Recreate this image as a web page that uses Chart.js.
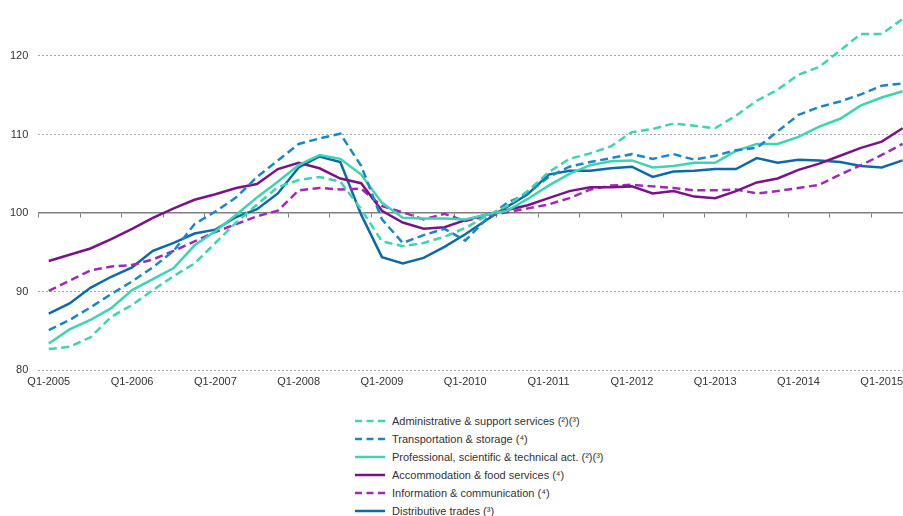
<!DOCTYPE html>
<html>
<head>
<meta charset="utf-8">
<script src="https://cdn.jsdelivr.net/npm/chart.js@4"></script>
<style>
  html, body { margin: 0; padding: 0; background: #fff; overflow: hidden; }
  #wrap { position: relative; width: 903px; height: 516px; overflow: hidden; }
  #chart { position: absolute; left: 0; top: 0; }
  #legend { position: absolute; left: 355px; top: 412px; font-family: "Liberation Sans", Arial, sans-serif; font-size: 11px; color: #333; }
  #legend .row { height: 18px; display: flex; align-items: center; white-space: nowrap; }
  #legend svg { display: block; margin-right: 7px; }
</style>
</head>
<body>
<div id="wrap">
  <canvas id="chart" width="920" height="400"></canvas>
  <div id="legend"></div>
</div>
<script>
const quarters = [
  'Q1-2005', 'Q2-2005', 'Q3-2005', 'Q4-2005',
  'Q1-2006', 'Q2-2006', 'Q3-2006', 'Q4-2006',
  'Q1-2007', 'Q2-2007', 'Q3-2007', 'Q4-2007',
  'Q1-2008', 'Q2-2008', 'Q3-2008', 'Q4-2008',
  'Q1-2009', 'Q2-2009', 'Q3-2009', 'Q4-2009',
  'Q1-2010', 'Q2-2010', 'Q3-2010', 'Q4-2010',
  'Q1-2011', 'Q2-2011', 'Q3-2011', 'Q4-2011',
  'Q1-2012', 'Q2-2012', 'Q3-2012', 'Q4-2012',
  'Q1-2013', 'Q2-2013', 'Q3-2013', 'Q4-2013',
  'Q1-2014', 'Q2-2014', 'Q3-2014', 'Q4-2014',
  'Q1-2015', 'Q2-2015'
];

const yTicks = [80, 90, 100, 110, 120];

const administrative = [
  82.7, 83.0, 84.2, 86.8, 88.3, 90.2, 92.0, 93.6, 96.2, 98.8,
  101.1, 103.3, 104.2, 104.6, 104.0, 100.5, 96.4, 95.8, 96.2, 97.0,
  98.1, 99.6, 100.9, 102.8, 105.2, 106.9, 107.6, 108.5, 110.3, 110.7,
  111.4, 111.1, 110.8, 112.4, 114.3, 115.7, 117.6, 118.6, 120.7, 122.8,
  122.8, 124.7
];
const transportation = [
  85.1, 86.4, 88.0, 89.7, 91.3, 93.1, 95.2, 98.6, 100.2, 102.0,
  104.6, 106.7, 108.8, 109.5, 110.1, 106.0, 99.2, 96.2, 97.2, 98.0,
  96.5, 99.2, 101.3, 102.5, 104.6, 105.9, 106.5, 107.0, 107.5, 106.9,
  107.5, 106.8, 107.3, 108.0, 108.3, 110.4, 112.5, 113.5, 114.2, 115.1,
  116.2, 116.5
];
const professional = [
  83.4, 85.2, 86.4, 87.9, 90.2, 91.6, 93.0, 95.9, 97.7, 99.8,
  102.0, 104.0, 106.1, 107.4, 106.9, 104.9, 101.3, 99.4, 99.3, 99.3,
  99.2, 99.8, 100.3, 101.8, 103.5, 105.0, 106.1, 106.6, 106.7, 105.8,
  106.0, 106.4, 106.4, 107.9, 108.8, 108.8, 109.7, 111.0, 112.0, 113.7,
  114.7, 115.5
];
const accommodation = [
  93.9, 94.7, 95.5, 96.7, 98.0, 99.4, 100.6, 101.7, 102.4, 103.2,
  103.7, 105.6, 106.4, 105.7, 104.4, 103.8, 100.3, 98.8, 98.0, 98.2,
  99.1, 99.8, 100.4, 101.0, 101.9, 102.8, 103.3, 103.3, 103.4, 102.5,
  102.8, 102.1, 101.9, 102.8, 103.9, 104.4, 105.5, 106.3, 107.3, 108.3,
  109.1, 110.8
];
const information = [
  90.1, 91.4, 92.7, 93.2, 93.4, 94.1, 95.2, 96.4, 97.6, 98.6,
  99.6, 100.3, 102.9, 103.2, 103.0, 103.1, 100.9, 100.1, 99.2, 99.9,
  99.0, 99.6, 100.1, 100.6, 101.1, 101.9, 103.0, 103.5, 103.6, 103.4,
  103.2, 102.9, 102.9, 103.0, 102.5, 102.8, 103.2, 103.6, 104.9, 106.1,
  107.4, 108.8
];
const distributive = [
  87.2, 88.5, 90.5, 91.9, 93.1, 95.2, 96.2, 97.4, 97.9, 99.5,
  100.5, 102.5, 105.8, 107.2, 106.5, 99.8, 94.4, 93.6, 94.3, 95.7,
  97.3, 99.1, 100.8, 102.4, 104.9, 105.4, 105.4, 105.7, 105.9, 104.6,
  105.3, 105.4, 105.6, 105.6, 107.0, 106.4, 106.8, 106.7, 106.5, 106.0,
  105.8, 106.7
];

const MINT = '#3dd4b1';
const BLUE = '#1a86c8';
const DARKBLUE = '#0e6aa5';
const PURPLE = '#7b1388';
const MAGENTA = '#a02ab4';
const DASH = [8, 4.5];

function series(label, data, color, dashed) {
  return {
    label: label,
    data: data,
    borderColor: color,
    backgroundColor: color,
    borderWidth: 2.5,
    borderDash: dashed ? DASH : [],
    pointRadius: 0,
    tension: 0,
    fill: false,
    xAxisID: 'x',
    yAxisID: 'y'
  };
}

const datasets = [
  series('Administrative & support services (²)(³)', administrative, MINT, true),
  series('Transportation & storage (⁴)', transportation, BLUE, true),
  series('Professional, scientific & technical act. (²)(³)', professional, MINT, false),
  series('Accommodation & food services (⁴)', accommodation, PURPLE, false),
  series('Information & communication (⁴)', information, MAGENTA, true),
  series('Distributive trades (³)', distributive, DARKBLUE, false)
];

Chart.defaults.font.family = '"Liberation Sans", Arial, sans-serif';
Chart.defaults.font.size = 11;
Chart.defaults.color = '#333';

const chart = new Chart(document.getElementById('chart').getContext('2d'), {
  type: 'line',
  data: { labels: quarters, datasets: datasets },
  options: {
    responsive: false,
    animation: false,
    layout: { padding: { left: 0, top: 14, right: 7, bottom: 6.5 } },
    plugins: {
      legend: { display: false },
      tooltip: { enabled: false }
    },
    scales: {
      x: {
        type: 'category',
        position: 'bottom',
        offset: true,
        grid: { display: false, drawTicks: false },
        border: { display: false },
        ticks: {
          autoSkip: false,
          maxRotation: 0,
          minRotation: 0,
          padding: 5,
          color: '#333',
          callback: function(val, i) {
            return quarters[i].indexOf('Q1') === 0 ? quarters[i] : '';
          }
        }
      },
      x2: {
        type: 'category',
        position: { y: 100 },
        offset: true,
        grid: {
          display: true,
          drawOnChartArea: false,
          drawTicks: true,
          tickLength: 4,
          offset: true,
          lineWidth: 1,
          color: function(ctx) {
            return ctx.index % 2 === 0 ? '#7f7f7f' : 'rgba(0,0,0,0)';
          }
        },
        border: { display: true, color: '#7f7f7f', width: 1.5 },
        ticks: { display: false, autoSkip: false }
      },
      y: {
        min: 80,
        max: 125,
        afterBuildTicks: function(scale) {
          scale.ticks = yTicks.map(function(v) { return { value: v }; });
        },
        grid: {
          drawTicks: false,
          lineWidth: 1,
          color: function(ctx) {
            return ctx.tick && ctx.tick.value === 100 ? 'rgba(0,0,0,0)' : '#a6a6a6';
          }
        },
        border: { display: false, dash: [2, 2] },
        ticks: { padding: 10, color: '#333' }
      }
    }
  }
});

// legend as a vertical list under the chart
const legendEl = document.getElementById('legend');
chart.data.datasets.forEach(function(ds) {
  const row = document.createElement('div');
  row.className = 'row';
  const dash = ds.borderDash.length ? ' stroke-dasharray="7,4.5"' : '';
  row.innerHTML = '<svg width="30" height="4"><line x1="0" y1="2" x2="30" y2="2" stroke="' +
    ds.borderColor + '" stroke-width="2.5"' + dash + '/></svg><span></span>';
  row.querySelector('span').textContent = ds.label;
  legendEl.appendChild(row);
});
</script>
</body>
</html>
